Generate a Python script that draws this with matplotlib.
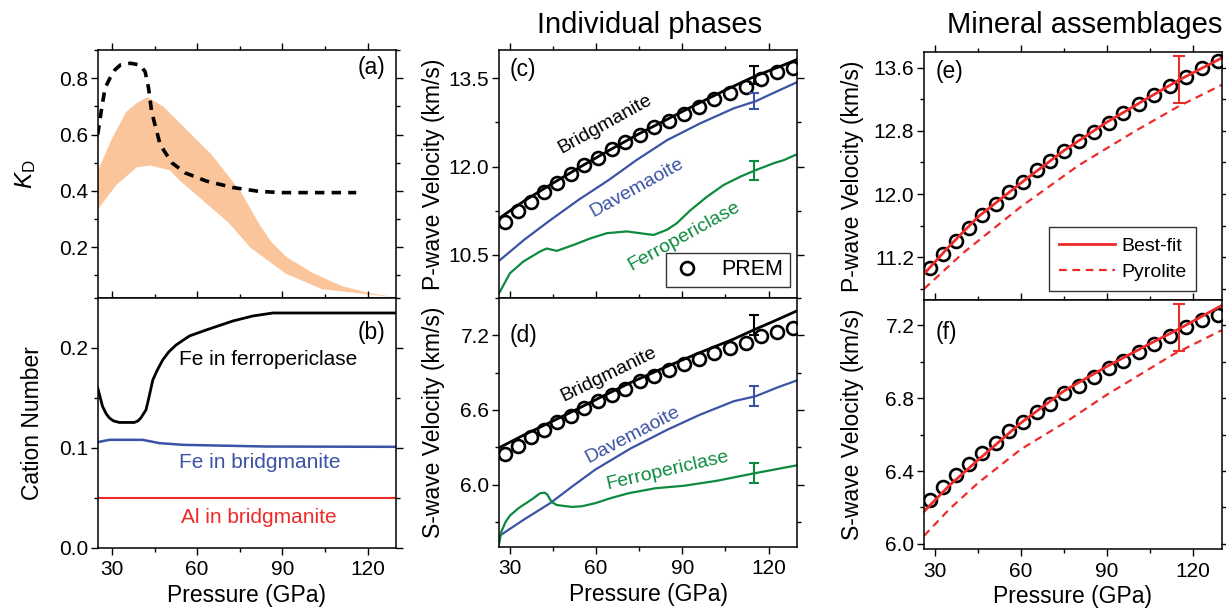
import matplotlib
matplotlib.use('Agg')
import matplotlib.pyplot as plt
import numpy as np
from matplotlib.ticker import MultipleLocator

plt.rcParams['font.family'] = ['Liberation Sans', 'DejaVu Sans']
plt.rcParams['mathtext.fontset'] = 'custom'
plt.rcParams['mathtext.rm'] = 'Liberation Sans'
plt.rcParams['mathtext.it'] = 'Liberation Sans:italic'

BLUE = '#3b53a4'
GREEN = '#0d8a3f'
RED = '#ee2b2b'
ORANGE = '#fbc59b'

# (a) K_D band (upper / lower edge) and reference curve
kd_up_p = [25, 30, 35, 38.5, 42.5, 48, 56, 65, 75.5, 82, 86, 91.5, 100.5, 111, 120.5, 130]
kd_up = [0.47, 0.585, 0.68, 0.71, 0.733, 0.70, 0.62, 0.53, 0.395, 0.28, 0.22, 0.165, 0.11, 0.062, 0.038, 0.022]
kd_lo_p = [25, 31.7, 38.8, 43.5, 50.5, 53.5, 61.7, 71.1, 78.8, 91.1, 104.1, 120.5, 130]
kd_lo = [0.334, 0.422, 0.484, 0.49, 0.473, 0.44, 0.369, 0.287, 0.198, 0.107, 0.051, 0.033, 0.022]
kd_ref_p = [25, 26.5, 27.6, 29.3, 31.1, 33, 36.5, 39.9, 41.7, 42.9, 44, 47, 51.1, 55.8, 63.2, 72.6, 82, 90.2, 116]
kd_ref = [0.60, 0.70, 0.765, 0.80, 0.83, 0.847, 0.853, 0.847, 0.823, 0.765, 0.68, 0.564, 0.50, 0.464, 0.435, 0.412, 0.398, 0.394, 0.394]

# (b) cation numbers
fe_fp_p = [25, 26.7, 28, 29.1, 30.5, 32.6, 37.9, 39.2, 40.2, 42, 43, 44.4, 46, 47.9, 50, 52.6, 57.3, 63.2, 72.6, 79.6, 86.7, 130]
fe_fp = [0.160, 0.1415, 0.134, 0.13, 0.127, 0.1254, 0.1254, 0.127, 0.13, 0.138, 0.15, 0.168, 0.178, 0.188, 0.196, 0.203, 0.212, 0.218, 0.227, 0.232, 0.235, 0.235]
fe_bm_p = [25, 29.1, 40.8, 46.7, 55, 66.7, 84.4, 130]
fe_bm = [0.1057, 0.108, 0.108, 0.1047, 0.103, 0.1023, 0.1013, 0.101]
al_bm_p = [25, 130]
al_bm = [0.05, 0.05]

# PREM
prem_p = [28.3, 32.9, 37.3, 41.9, 46.5, 51.2, 55.9, 60.8, 65.5, 70.1, 75.1,
          80.2, 85.5, 90.6, 95.7, 101, 106.5, 112, 117.4, 123, 128.6]
prem_vp = [11.06, 11.24, 11.40, 11.57, 11.73, 11.88, 12.02, 12.15, 12.30, 12.42, 12.54,
           12.67, 12.78, 12.90, 13.02, 13.14, 13.25, 13.36, 13.48, 13.60, 13.68]
prem_vs = [6.242, 6.312, 6.38, 6.44, 6.499, 6.554, 6.618, 6.67, 6.723, 6.771, 6.829,
           6.87, 6.917, 6.967, 7.007, 7.055, 7.10, 7.141, 7.193, 7.229, 7.26]

# (c) Vp of individual phases
bm_vp_p = [26.2, 35, 45, 55, 65, 75, 85, 95, 105, 115, 125, 130]
bm_vp = [11.12, 11.42, 11.72, 12.01, 12.29, 12.56, 12.81, 13.06, 13.30, 13.53, 13.72, 13.82]
dv_vp_p = [26.2, 35, 44, 54, 64.3, 74, 84.7, 96, 107.9, 115.5, 123, 130.2]
dv_vp = [10.40, 10.76, 11.09, 11.44, 11.77, 12.11, 12.45, 12.73, 12.99, 13.11, 13.28, 13.44]
fp_vp_p = [26.2, 27.1, 30, 34.7, 40.5, 42.8, 46.3, 52.1, 57.9, 63.7, 70.7, 75.3, 80, 84.7, 88.1,
           92.8, 98.6, 104.4, 110.2, 115.5, 121.9, 125.3, 129.4]
fp_vp = [9.85, 9.93, 10.19, 10.39, 10.56, 10.61, 10.57, 10.67, 10.78, 10.87, 10.90, 10.87, 10.84, 10.93, 11.04,
         11.26, 11.49, 11.69, 11.83, 11.94, 12.06, 12.11, 12.20]

# (d) Vs of individual phases
bm_vs_p = [26.2, 35, 44, 52, 61.4, 72, 84.7, 96, 107.9, 115, 122, 130.2]
bm_vs = [6.295, 6.40, 6.50, 6.59, 6.70, 6.82, 6.95, 7.06, 7.17, 7.245, 7.315, 7.40]
dv_vs_p = [26.2, 35, 44, 52, 59.7, 72, 84.7, 96, 107.9, 115.5, 123, 130.2]
dv_vs = [5.585, 5.72, 5.85, 5.99, 6.12, 6.29, 6.44, 6.56, 6.67, 6.71, 6.78, 6.84]
fp_vs_p = [26.2, 27, 28.5, 30, 33, 37.6, 40.5, 42, 43, 44.5, 46.3, 51.5, 55, 59.7, 65, 71.3, 80.6, 90.5, 102, 115, 130]
fp_vs = [5.52, 5.62, 5.70, 5.75, 5.81, 5.88, 5.93, 5.935, 5.92, 5.86, 5.835, 5.82, 5.825, 5.85, 5.89, 5.93, 5.97, 5.99, 6.03, 6.09, 6.155]

# error bars at 115 GPa: (centre, half-width)
err_p = 115
err_vp = {'bm': (13.55, 0.15), 'dv': (13.11, 0.14), 'fp': (11.93, 0.16)}
err_vs = {'bm': (7.28, 0.08), 'dv': (6.71, 0.08), 'fp': (6.09, 0.08)}

# (e), (f) assemblages
fit_p = [26.2, 35, 45, 60, 75, 90, 105, 115, 130]
fit_vp = [10.99, 11.34, 11.71, 12.14, 12.55, 12.91, 13.23, 13.44, 13.72]
pyr_vp_p = [26.2, 40, 60, 80, 100, 115, 130]
pyr_vp = [10.80, 11.26, 11.84, 12.36, 12.80, 13.11, 13.38]
fit_vs = [6.178, 6.32, 6.46, 6.665, 6.84, 6.975, 7.10, 7.18, 7.31]
pyr_vs_p = [26.2, 35, 45, 60, 76, 90, 113, 130]
pyr_vs = [6.044, 6.19, 6.334, 6.52, 6.673, 6.82, 7.04, 7.174]
err_fit_vp = (13.45, 0.30)
err_fit_vs = (7.19, 0.13)

TICK_FS = 15
LABEL_FS = 16.5


def style_axes(ax, xlim, ylim, ymaj, ymin, xlabels):
    ax.set_xlim(*xlim)
    ax.set_ylim(*ylim)
    ax.xaxis.set_major_locator(MultipleLocator(30))
    ax.xaxis.set_minor_locator(MultipleLocator(15))
    ax.yaxis.set_major_locator(MultipleLocator(ymaj))
    ax.yaxis.set_minor_locator(MultipleLocator(ymin))
    ax.tick_params(which='both', direction='out', top=True, right=True, width=1)
    ax.tick_params(which='major', length=5)
    ax.tick_params(which='minor', length=3)
    ax.tick_params(axis='y', pad=2, labelsize=TICK_FS)
    ax.tick_params(axis='x', pad=4, labelsize=TICK_FS)
    for s in ax.spines.values():
        s.set_linewidth(1.1)
    if not xlabels:
        ax.tick_params(axis='x', labelbottom=False)
    else:
        ax.set_xlabel('Pressure (GPa)', fontsize=LABEL_FS)
        ax.xaxis.set_label_coords(0.5, -0.145)


fig = plt.figure(figsize=(12.26, 6.11), dpi=100)
W, H = 1226, 611


def add_ax(x0, x1, y0, y1):
    return fig.add_axes([x0 / W, 1 - y1 / H, (x1 - x0) / W, (y1 - y0) / H])


ax_a = add_ax(97.7, 396, 50, 298)
ax_b = add_ax(97.7, 396, 298, 547.7)
ax_c = add_ax(499, 797.3, 50, 298)
ax_d = add_ax(499, 797.3, 298, 546.7)
ax_e = add_ax(924, 1221.7, 51.7, 300)
ax_f = add_ax(924, 1221.7, 300, 549.3)

# (a)
ax_a.fill(np.concatenate([kd_up_p, kd_lo_p[::-1]]), np.concatenate([kd_up, kd_lo[::-1]]),
          color=ORANGE, lw=0)
ax_a.plot(kd_ref_p, kd_ref, color='black', lw=2.6, ls=(0, (2.6, 2.0)))
style_axes(ax_a, (25, 130), (0.02, 0.9), 0.2, 0.1, False)
ax_a.set_ylabel(r'$K_{\mathrm{D}}$', fontsize=LABEL_FS + 1)
ax_a.yaxis.set_label_coords(-0.2, 0.5)
ax_a.text(0.965, 0.93, '(a)', transform=ax_a.transAxes, ha='right', va='center', fontsize=16.5)

# (b)
ax_b.plot(fe_fp_p, fe_fp, color='black', lw=2)
ax_b.plot(fe_bm_p, fe_bm, color=BLUE, lw=1.8)
ax_b.plot(al_bm_p, al_bm, color=RED, lw=1.5)
style_axes(ax_b, (25, 130), (0, 0.25), 0.1, 0.05, True)
ax_b.set_ylabel('Cation Number', fontsize=LABEL_FS)
ax_b.yaxis.set_label_coords(-0.18, 0.5)
ax_b.text(0.965, 0.86, '(b)', transform=ax_b.transAxes, ha='right', va='center', fontsize=16.5)
ax_b.text(53.7, 0.188, 'Fe in ferropericlase', fontsize=15, va='center', ha='left')
ax_b.text(53.7, 0.085, 'Fe in bridgmanite', fontsize=15, va='center', ha='left', color=BLUE)
ax_b.text(54.2, 0.030, 'Al in bridgmanite', fontsize=15, va='center', ha='left', color=RED)

# (c)
ax_c.plot(bm_vp_p, bm_vp, color='black', lw=2)
ax_c.plot(dv_vp_p, dv_vp, color=BLUE, lw=1.6)
ax_c.plot(fp_vp_p, fp_vp, color=GREEN, lw=1.6)
ax_c.plot(prem_p, prem_vp, ls='none', marker='o', ms=9.3, mfc='none', mec='black', mew=1.9, label='PREM')
for key, col in (('bm', 'black'), ('dv', BLUE), ('fp', GREEN)):
    c, e = err_vp[key]
    ax_c.errorbar([err_p], [c], yerr=[e], color=col, capsize=3.5, lw=1.5, capthick=1.5, fmt='none')
style_axes(ax_c, (26.2, 130), (9.77, 13.98), 1.5, 0.75, False)
ax_c.yaxis.set_major_formatter(plt.FormatStrFormatter('%.1f'))
ax_c.set_ylabel('P-wave Velocity (km/s)', fontsize=LABEL_FS)
ax_c.yaxis.set_label_coords(-0.18, 0.5)
ax_c.text(0.035, 0.92, '(c)', transform=ax_c.transAxes, ha='left', va='center', fontsize=16.5)
ax_c.text(63.1, 12.72, 'Bridgmanite', fontsize=14, rotation=29, rotation_mode='anchor', ha='center', va='center')
ax_c.text(74.1, 11.65, 'Davemaoite', fontsize=14, rotation=29, rotation_mode='anchor', ha='center', va='center', color=BLUE)
ax_c.text(90.6, 10.82, 'Ferropericlase', fontsize=14, rotation=29, rotation_mode='anchor', ha='center', va='center', color=GREEN)
leg = ax_c.legend(loc='lower right', fontsize=15.5, frameon=True, fancybox=False, edgecolor='black',
                  handletextpad=0.9, borderpad=0.3, handlelength=1.4, borderaxespad=0,
                  bbox_to_anchor=(0.9755, 0.046))
leg.get_frame().set_linewidth(1.0)

# (d)
ax_d.plot(bm_vs_p, bm_vs, color='black', lw=2)
ax_d.plot(dv_vs_p, dv_vs, color=BLUE, lw=1.6)
ax_d.plot(fp_vs_p, fp_vs, color=GREEN, lw=1.6)
ax_d.plot(prem_p, prem_vs, ls='none', marker='o', ms=9.3, mfc='none', mec='black', mew=1.9)
for key, col in (('bm', 'black'), ('dv', BLUE), ('fp', GREEN)):
    c, e = err_vs[key]
    ax_d.errorbar([err_p], [c], yerr=[e], color=col, capsize=3.5, lw=1.5, capthick=1.5, fmt='none')
style_axes(ax_d, (26.2, 130), (5.5, 7.5), 0.6, 0.3, True)
ax_d.yaxis.set_major_formatter(plt.FormatStrFormatter('%.1f'))
ax_d.set_ylabel('S-wave Velocity (km/s)', fontsize=LABEL_FS)
ax_d.yaxis.set_label_coords(-0.18, 0.5)
ax_d.text(0.035, 0.85, '(d)', transform=ax_d.transAxes, ha='left', va='center', fontsize=16.5)
ax_d.text(64.3, 6.884, 'Bridgmanite', fontsize=14, rotation=26, rotation_mode='anchor', ha='center', va='center')
ax_d.text(72.7, 6.396, 'Davemaoite', fontsize=14, rotation=27.5, rotation_mode='anchor', ha='center', va='center', color=BLUE)
ax_d.text(85, 6.115, 'Ferropericlase', fontsize=14, rotation=13, rotation_mode='anchor', ha='center', va='center', color=GREEN)

# (e)
ax_e.plot(prem_p, prem_vp, ls='none', marker='o', ms=9.3, mfc='none', mec='black', mew=1.9)
ax_e.plot(fit_p, fit_vp, color=RED, lw=2, label='Best-fit')
ax_e.plot(pyr_vp_p, pyr_vp, color=RED, lw=1.6, ls=(0, (3.5, 2.5)), label='Pyrolite')
ax_e.errorbar([err_p], [err_fit_vp[0]], yerr=[err_fit_vp[1]], color=RED, capsize=4, lw=1.5, capthick=1.5, fmt='none')
style_axes(ax_e, (26.2, 130), (10.66, 13.8), 0.8, 0.4, False)
ax_e.yaxis.set_major_formatter(plt.FormatStrFormatter('%.1f'))
ax_e.set_ylabel('P-wave Velocity (km/s)', fontsize=LABEL_FS)
ax_e.yaxis.set_label_coords(-0.2, 0.5)
ax_e.text(0.04, 0.92, '(e)', transform=ax_e.transAxes, ha='left', va='center', fontsize=16.5)
leg = ax_e.legend(loc='lower right', fontsize=14, frameon=True, fancybox=False, edgecolor='black',
                  handlelength=2.9, handletextpad=0.3, borderpad=0.5, labelspacing=0.45,
                  borderaxespad=0, bbox_to_anchor=(0.9137, 0.0375))
leg.get_frame().set_linewidth(1.0)

# (f)
ax_f.plot(prem_p, prem_vs, ls='none', marker='o', ms=9.3, mfc='none', mec='black', mew=1.9)
ax_f.plot(fit_p, fit_vs, color=RED, lw=2)
ax_f.plot(pyr_vs_p, pyr_vs, color=RED, lw=1.6, ls=(0, (3.5, 2.5)))
ax_f.errorbar([err_p], [err_fit_vs[0]], yerr=[err_fit_vs[1]], color=RED, capsize=4, lw=1.5, capthick=1.5, fmt='none')
style_axes(ax_f, (26.2, 130), (5.97, 7.34), 0.4, 0.2, True)
ax_f.yaxis.set_major_formatter(plt.FormatStrFormatter('%.1f'))
ax_f.set_ylabel('S-wave Velocity (km/s)', fontsize=LABEL_FS)
ax_f.yaxis.set_label_coords(-0.2, 0.5)
ax_f.text(0.04, 0.87, '(f)', transform=ax_f.transAxes, ha='left', va='center', fontsize=16.5)

fig.text(650 / W, 1 - 32.7 / H, 'Individual phases', ha='center', va='baseline', fontsize=21)
fig.text(1085 / W, 1 - 32.7 / H, 'Mineral assemblages', ha='center', va='baseline', fontsize=21)

fig.savefig('out.png', dpi=100)
